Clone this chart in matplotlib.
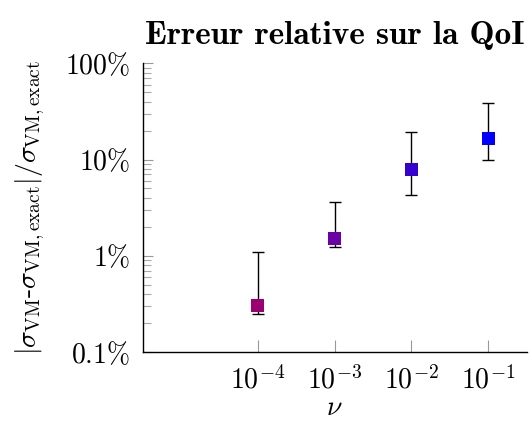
import os
import matplotlib
matplotlib.use("Agg")
import matplotlib.pyplot as plt
import numpy as np
from matplotlib.font_manager import FontProperties
from matplotlib.ticker import FixedLocator, FixedFormatter, LogLocator, NullFormatter

plt.rcParams['mathtext.fontset'] = 'cm'
plt.rcParams['font.family'] = ['DejaVu Serif']

nu = [1e-4, 1e-3, 1e-2, 1e-1]
err_pct = [0.304, 1.50, 7.82, 16.4]
err_low_pct = [0.245, 1.22, 4.24, 9.8]
err_high_pct = [1.08, 3.58, 19.3, 38.7]
colors = ['#9c0070', '#6b00a6', '#3500d0', '#0000ff']
xtick_vals = [1e-4, 1e-3, 1e-2, 1e-1]
xtick_labels = [r'$10^{-4}$', r'$10^{-3}$', r'$10^{-2}$', r'$10^{-1}$']
ytick_vals = [0.1, 1, 10, 100]
ytick_labels = [r'$0.1\%$', r'$1\%$', r'$10\%$', r'$100\%$']
title = 'Erreur relative sur la QoI'

fig = plt.figure(figsize=(5.32, 4.23), dpi=100)
ax = fig.add_axes([0.268, 0.1685, 0.722, 0.6815])

y = np.array(err_pct)
lo = y - np.array(err_low_pct)
hi = np.array(err_high_pct) - y
ax.errorbar(nu, y, yerr=[lo, hi], fmt='none', ecolor='black', elinewidth=1.0,
            capsize=4.3, capthick=1.0, zorder=2)
ax.scatter(nu, y, marker='s', s=88, c=colors, edgecolors='none', zorder=3)

ax.set_xscale('log')
ax.set_yscale('log')
ax.set_xlim(10**-5.5, 10**-0.5)
ax.set_ylim(0.1, 100)

ax.spines['top'].set_visible(False)
ax.spines['right'].set_visible(False)
for s in ['left', 'bottom']:
    ax.spines[s].set_linewidth(1.0)
    ax.spines[s].set_color('black')

ax.xaxis.set_major_locator(FixedLocator(xtick_vals))
ax.xaxis.set_major_formatter(FixedFormatter(xtick_labels))
ax.xaxis.set_minor_locator(FixedLocator([]))
ax.yaxis.set_major_locator(FixedLocator(ytick_vals))
ax.yaxis.set_major_formatter(FixedFormatter(ytick_labels))
ax.yaxis.set_minor_locator(LogLocator(base=10, subs=np.arange(2, 10)))
ax.yaxis.set_minor_formatter(NullFormatter())

ax.tick_params(axis='x', which='major', direction='in', length=8.5, width=0.8,
               color='#999999', labelsize=20, pad=10)
ax.tick_params(axis='y', which='major', direction='in', length=7.5, width=0.8,
               color='#999999', labelsize=20, pad=9)
ax.tick_params(axis='y', which='minor', direction='in', length=5.5, width=0.8,
               color='#aaaaaa')

ax.set_xlabel(r'$\nu$', fontsize=20, labelpad=0)
ax.set_ylabel(r'$|\sigma_{\mathrm{VM}}\text{-}\sigma_{\mathrm{VM,exact}}|/\sigma_{\mathrm{VM,exact}}$',
              fontsize=20, labelpad=13)

cmb = os.path.join(matplotlib.get_data_path(), 'fonts', 'ttf', 'cmb10.ttf')
if os.path.exists(cmb):
    ax.set_title(title, fontproperties=FontProperties(fname=cmb, size=24), pad=14)
else:
    ax.set_title(title, fontsize=22, fontweight='bold', pad=14)

fig.savefig('out.png', dpi=100)
